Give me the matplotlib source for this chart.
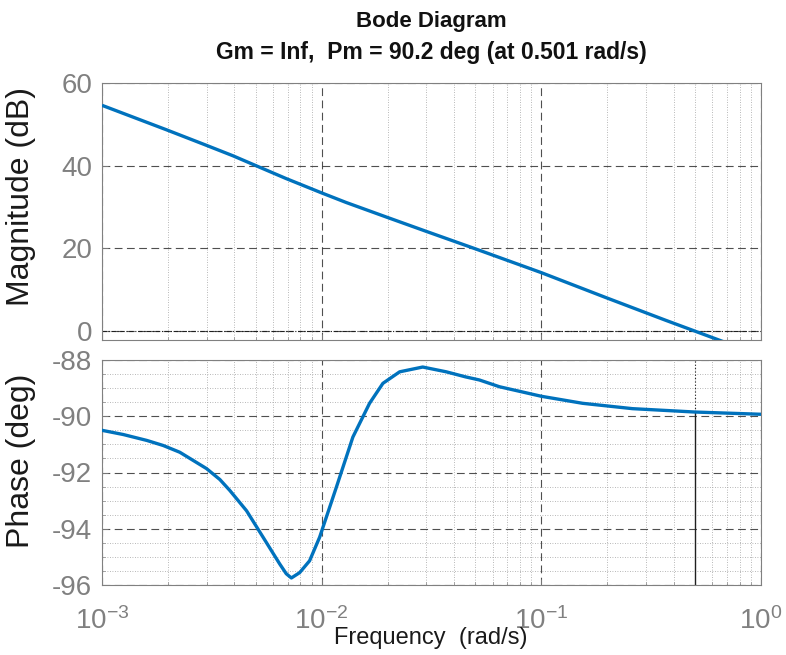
import numpy as np
import matplotlib
matplotlib.use("Agg")
import matplotlib.pyplot as plt
from matplotlib.ticker import LogLocator, FixedLocator, MultipleLocator, LogFormatterMathtext, NullFormatter

plt.rcParams['font.family'] = ['Liberation Sans', 'DejaVu Sans']
plt.rcParams['mathtext.fontset'] = 'custom'
plt.rcParams['mathtext.rm'] = 'Liberation Sans'
plt.rcParams['mathtext.it'] = 'Liberation Sans'
plt.rcParams['mathtext.default'] = 'regular'
plt.rcParams['axes.unicode_minus'] = False

# ---- data ----
mag_freq = [0.001, 0.00196, 0.00296, 0.00394, 0.00502, 0.00687, 0.01, 0.0129,
            0.0196, 0.0299, 0.0505, 0.1, 0.196, 0.367, 0.621, 1.0]
mag_db = [54.6, 48.7, 45.0, 42.4, 40.0, 36.9, 33.4, 31.1,
          27.6, 24.1, 19.8, 14.1, 8.1, 2.6, -1.9, -6.0]

phase_freq = [0.001, 0.00125, 0.0016, 0.0019, 0.00226, 0.00299, 0.00344, 0.00382,
              0.00455, 0.00541, 0.00644, 0.00690, 0.00728, 0.00794, 0.00881, 0.00979,
              0.01167, 0.01387, 0.01652, 0.0190, 0.02265, 0.02884, 0.03690,
              0.04519, 0.05224, 0.06442, 0.1, 0.1542, 0.2600, 0.5, 1.0]
phase_deg = [-90.5, -90.65, -90.86, -91.04, -91.28, -91.86, -92.25, -92.64,
             -93.36, -94.3, -95.25, -95.6, -95.75, -95.56, -95.14, -94.3,
             -92.52, -90.74, -89.54, -88.83, -88.42, -88.25, -88.42,
             -88.6, -88.71, -88.95, -89.29, -89.54, -89.73, -89.85, -89.93]

title_lines = ["Bode Diagram", "Gm = Inf,  Pm = 90.2 deg (at 0.501 rad/s)"]
pm_freq = 0.501
pm_phase = -89.85
mag_ticks = [0, 20, 40, 60]
phase_ticks = [-96, -94, -92, -90, -88]

# ---- figure ----
W, H = 786, 655
fig = plt.figure(figsize=(W / 100, H / 100), dpi=100)

def fx(px):
    return px / W

def fy(py):
    return 1 - py / H

ax1 = fig.add_axes([fx(102), fy(340), fx(761) - fx(102), fy(83) - fy(340)])
ax2 = fig.add_axes([fx(102), fy(585), fx(761) - fx(102), fy(360) - fy(585)])

line_color = '#0072BD'
tick_color = '#808080'
label_color = '#1a1a1a'

for ax in (ax1, ax2):
    ax.set_xscale('log')
    ax.set_xlim(1e-3, 1)
    ax.xaxis.set_major_locator(LogLocator(base=10, numticks=10))
    ax.xaxis.set_minor_locator(LogLocator(base=10, subs=np.arange(2, 10), numticks=20))
    ax.xaxis.set_minor_formatter(NullFormatter())
    ax.grid(True, which='major', axis='both', color='#303030', linestyle=(0, (7, 4)), linewidth=0.8, alpha=0.85)
    ax.tick_params(which='both', direction='in', colors=tick_color, labelcolor=tick_color)
    ax.tick_params(which='major', length=4, width=0.6)
    ax.tick_params(which='minor', length=2, width=0.5)
    for sp in ax.spines.values():
        sp.set_color('#808080')
        sp.set_linewidth(0.8)
    ax.set_axisbelow(True)

# magnitude
ax1.plot(mag_freq, mag_db, color=line_color, linewidth=2.4, solid_capstyle='butt', zorder=3)
ax1.set_ylim(-2.2, 60)
ax1.yaxis.set_major_locator(FixedLocator(mag_ticks))
ax1.grid(True, which='minor', axis='x', color='#a0a0a0', linestyle=(0, (1, 2)), linewidth=0.6)
ax1.axhline(0, color='#202020', linestyle=(0, (4, 1.5, 1, 1.5)), linewidth=0.8, zorder=2)
ax1.tick_params(axis='x', labelbottom=False)
ax1.tick_params(axis='y', labelsize=20, pad=7)
ax1.set_ylabel('Magnitude (dB)', fontsize=23, color=label_color)
ax1.yaxis.set_label_coords(-0.10, 0.56)

# phase
ax2.plot(phase_freq, phase_deg, color=line_color, linewidth=2.4, zorder=3)
ax2.set_ylim(-96, -88)
ax2.yaxis.set_major_locator(FixedLocator(phase_ticks))
ax2.yaxis.set_minor_locator(MultipleLocator(0.5))
ax2.grid(True, which='minor', axis='both', color='#a0a0a0', linestyle=(0, (1, 2)), linewidth=0.6)
ax2.plot([pm_freq, pm_freq], [-96, pm_phase], color='#202020', linewidth=1.0, zorder=2)
ax2.plot([pm_freq, pm_freq], [pm_phase, -88], color='#202020', linewidth=0.8, linestyle=(0, (1, 2)), zorder=2)
ax2.xaxis.set_major_formatter(LogFormatterMathtext())
ax2.tick_params(axis='y', labelsize=20, pad=7)
ax2.tick_params(axis='x', labelsize=20, pad=16)
ax2.set_ylabel('Phase (deg)', fontsize=23, color=label_color)
ax2.yaxis.set_label_coords(-0.10, 0.55)

narrow = ['Liberation Sans Narrow', 'Liberation Sans', 'DejaVu Sans']
fig.text(fx(431), fy(638), 'Frequency  (rad/s)', ha='center', va='center', fontsize=17,
         color=label_color, family=narrow)
fig.text(fx(431), fy(22), title_lines[0], ha='center', va='center', fontsize=16,
         fontweight='bold', color='#111111', family=narrow)
fig.text(fx(431), fy(52), title_lines[1], ha='center', va='center', fontsize=16.5,
         fontweight='bold', color='#111111', family=narrow)

fig.savefig('out.png', dpi=100)
